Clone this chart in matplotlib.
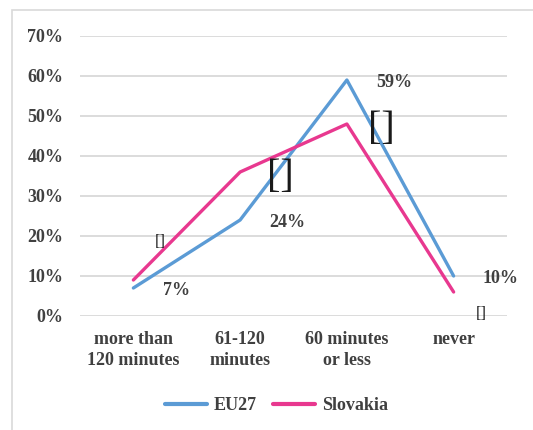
import matplotlib
matplotlib.use('Agg')
import matplotlib.pyplot as plt
from matplotlib.patches import Rectangle

categories = ['more than\n120 minutes', '61-120\nminutes', '60 minutes\nor less', 'never']
eu27 = [7, 24, 59, 10]
slovakia = [9, 36, 48, 6]
eu27_labels = ['7%', '24%', '59%', '10%']
slovakia_labels = ['[]', '[]', '[]', '[]']
yticks = [0, 10, 20, 30, 40, 50, 60, 70]

blue = '#5B9BD5'
pink = '#E8388F'
text_col = '#404040'
serif = 'Liberation Serif'
fs = 13

fig = plt.figure(figsize=(5.33, 4.30), dpi=100)
fig.patches.append(Rectangle((12 / 533, -0.1), 1.2, 1 - 10 / 430 + 0.1, transform=fig.transFigure,
                             fill=False, edgecolor='#D9D9D9', linewidth=1.2))
ax = fig.add_axes([80 / 533, 114 / 430, 427 / 533, 280 / 430])

x = list(range(len(categories)))
ax.plot(x, eu27, color=blue, linewidth=2.4, label='EU27', solid_capstyle='round')
ax.plot(x, slovakia, color=pink, linewidth=2.4, label='Slovakia', solid_capstyle='round')

# EU27 labels sit to the right of the points
for xi, v, lab in zip(x, eu27, eu27_labels):
    ax.annotate(lab, (xi, v), xytext=(21, -2), textcoords='offset points',
                ha='left', va='center', fontsize=fs, fontweight='bold',
                family=serif, color=text_col)

# Slovakia labels came out as empty boxes in the original
sk_offsets = [(19, 27), (29, -4), (25, -4), (20, -16)]
sk_sizes = [12, 29, 29, 12]
for xi, v, lab, off, s in zip(x, slovakia, slovakia_labels, sk_offsets, sk_sizes):
    ax.annotate(lab, (xi, v), xytext=off, textcoords='offset points',
                ha='center', va='center', fontsize=s, family=serif, color='#1a1a1a')

ax.set_xlim(-0.5, 3.5)
ax.set_ylim(0, 70)
ax.set_yticks(yticks)
ax.set_yticklabels([f'{t}%' for t in yticks])
ax.set_xticks(x)
ax.set_xticklabels(categories, linespacing=1.3)
ax.grid(axis='y', color='#D9D9D9', linewidth=1.3)
ax.set_axisbelow(True)
for s in ax.spines.values():
    s.set_visible(False)
ax.tick_params(length=0, colors=text_col)
ax.tick_params(axis='y', pad=12)
ax.tick_params(axis='x', pad=11)
for t in ax.get_xticklabels() + ax.get_yticklabels():
    t.set_family(serif)
    t.set_fontweight('bold')
    t.set_fontsize(fs)

leg = ax.legend(loc='center', bbox_to_anchor=(0.46, -0.32), ncol=2, frameon=False,
                handlelength=2.3, columnspacing=0.9, handletextpad=0.4,
                prop={'family': serif, 'weight': 'bold', 'size': fs})
for t in leg.get_texts():
    t.set_color(text_col)
for h in leg.get_lines():
    h.set_linewidth(3)

fig.savefig('out.png', dpi=100)
